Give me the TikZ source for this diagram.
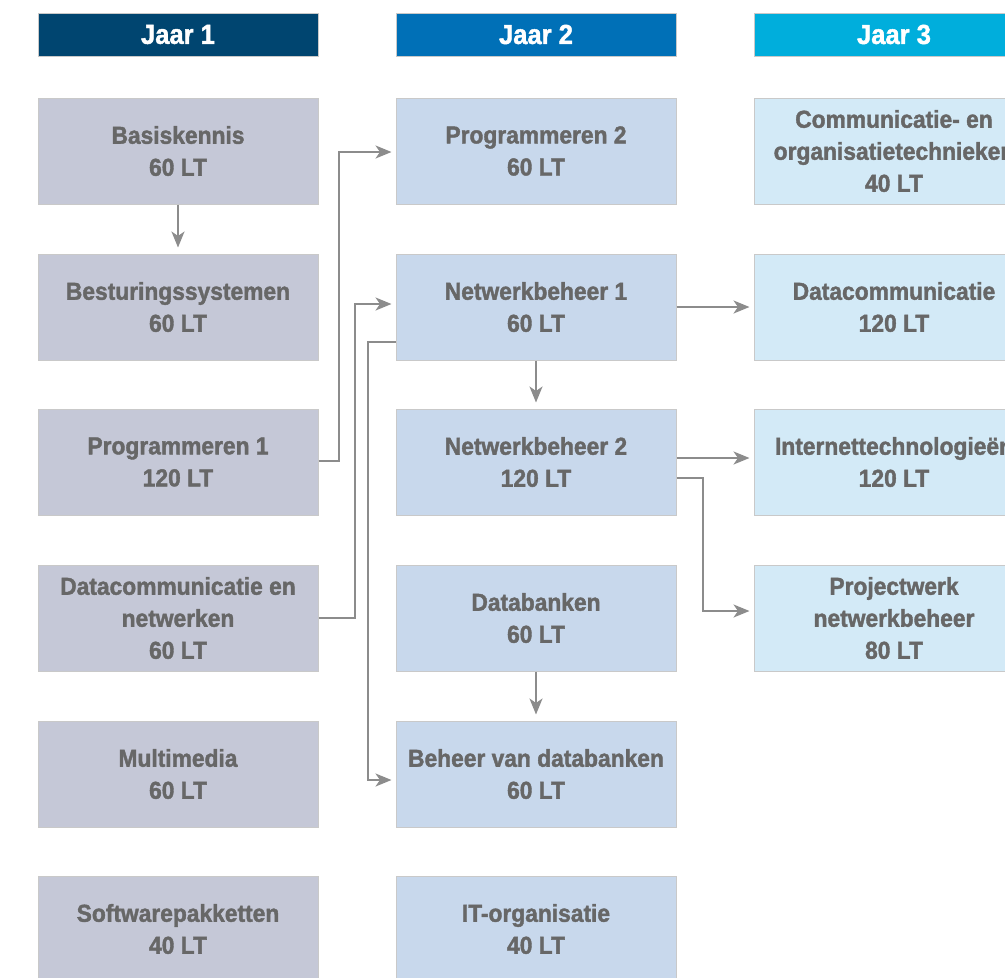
\documentclass[tikz,border=0pt]{standalone}
\usepackage{fontspec}
\setmainfont{Liberation Sans}[BoldFeatures={FakeStretch=0.93,FakeBold=1.6}]
\usetikzlibrary{arrows.meta}
\definecolor{hdA}{HTML}{004570}
\definecolor{hdB}{HTML}{0070B7}
\definecolor{hdC}{HTML}{00AEDC}
\definecolor{boxA}{HTML}{C5C8D7}
\definecolor{boxB}{HTML}{C8D8EC}
\definecolor{boxC}{HTML}{D3EAF7}
\definecolor{edgegray}{HTML}{C9C9C9}
\definecolor{txtgray}{HTML}{676767}
\definecolor{arrgray}{HTML}{8C8C8C}
\tikzset{
  hdr/.style={draw=edgegray, line width=1pt, minimum width=280pt, minimum height=43pt,
    inner sep=0pt, text=white, font=\fontsize{27.5}{30}\selectfont\bfseries},
  course/.style={draw=edgegray, line width=1pt, minimum width=280pt, minimum height=106pt,
    inner sep=0pt, align=center, text=txtgray, font=\fontsize{24.5}{32}\selectfont\bfseries},
  yrA/.style={course, fill=boxA},
  yrB/.style={course, fill=boxB},
  yrC/.style={course, fill=boxC},
  conn/.style={draw=arrgray, line width=2pt, -{Stealth[length=16pt,width=13pt,inset=4.5pt]}, shorten >=4pt},
  vconn/.style={conn, shorten >=6pt}
}
\begin{document}
\begin{tikzpicture}[x=1pt,y=-1pt]
\clip (0,0) rectangle (1005,978);
\fill[white] (0,0) rectangle (1005,978);
% headers
\node[hdr, fill=hdA] (h1) at (178,34.5) {Jaar 1};
\node[hdr, fill=hdB] (h2) at (536,34.5) {Jaar 2};
\node[hdr, fill=hdC] (h3) at (894,34.5) {Jaar 3};
% column 1
\node[yrA] (a1) at (178,151) {Basiskennis\\60 LT};
\node[yrA] (a2) at (178,307) {Besturingssystemen\\60 LT};
\node[yrA] (a3) at (178,462) {Programmeren 1\\120 LT};
\node[yrA] (a4) at (178,618) {Datacommunicatie en\\netwerken\\60 LT};
\node[yrA] (a5) at (178,774) {Multimedia\\60 LT};
\node[yrA] (a6) at (178,929) {Softwarepakketten\\40 LT};
% column 2
\node[yrB] (b1) at (536,151) {Programmeren 2\\60 LT};
\node[yrB] (b2) at (536,307) {Netwerkbeheer 1\\60 LT};
\node[yrB] (b3) at (536,462) {Netwerkbeheer 2\\120 LT};
\node[yrB] (b4) at (536,618) {Databanken\\60 LT};
\node[yrB] (b5) at (536,774) {Beheer van databanken\\60 LT};
\node[yrB] (b6) at (536,929) {IT-organisatie\\40 LT};
% column 3
\node[yrC] (c1) at (894,151) {Communicatie- en\\organisatietechnieken\\40 LT};
\node[yrC] (c2) at (894,307) {Datacommunicatie\\120 LT};
\node[yrC] (c3) at (894,462) {Internettechnologieën\\120 LT};
\node[yrC] (c4) at (894,618) {Projectwerk\\netwerkbeheer\\80 LT};
% connectors
\draw[vconn] (a1.south) -- (a2.north);
\draw[vconn] (b2.south) -- (b3.north);
\draw[vconn] (b4.south) -- (b5.north);
\draw[conn] ([yshift=1pt]a3.east) -| (339,152) -- ([yshift=-1pt]b1.west);
\draw[conn] (a4.east) -| (355,304) -- ([yshift=3pt]b2.west);
\draw[conn] ([yshift=-35pt]b2.west) -| (367.5,780) -- ([yshift=-6pt]b5.west);
\draw[conn] (b2.east) -- (c2.west);
\draw[conn] ([yshift=4pt]b3.east) -- ([yshift=4pt]c3.west);
\draw[conn] ([yshift=-16pt]b3.east) -| (703,611) -- ([yshift=7pt]c4.west);
\end{tikzpicture}
\end{document}
